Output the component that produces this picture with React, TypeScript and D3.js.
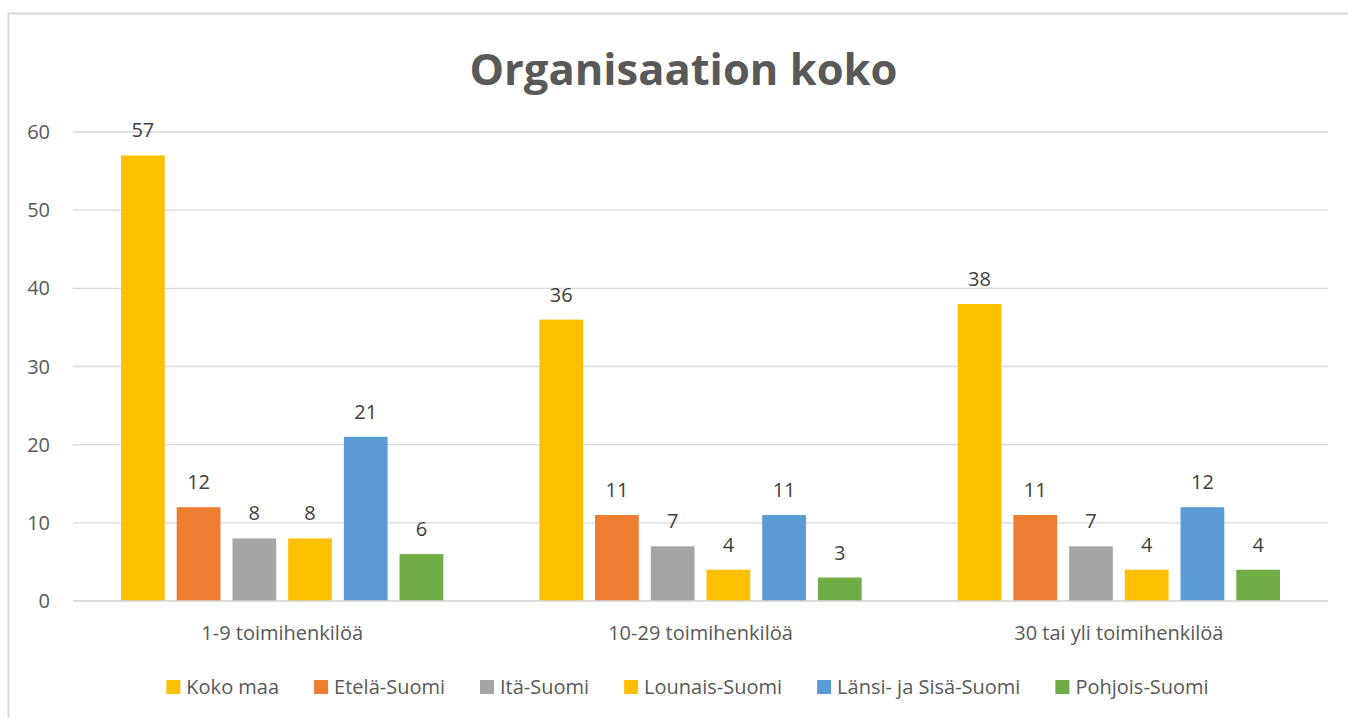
import { useEffect, useRef } from 'react';
import * as d3 from 'd3';

// data
const categories = ['1-9 toimihenkilöä', '10-29 toimihenkilöä', '30 tai yli toimihenkilöä'];
const seriesNames = ['Koko maa', 'Etelä-Suomi', 'Itä-Suomi', 'Lounais-Suomi', 'Länsi- ja Sisä-Suomi', 'Pohjois-Suomi'];
const seriesColors = ['#FFC000', '#ED7D31', '#A5A5A5', '#FFC000', '#5B9BD5', '#70AD47'];
const kokoMaa = [57, 36, 38];
const etelaSuomi = [12, 11, 11];
const itaSuomi = [8, 7, 7];
const lounaisSuomi = [8, 4, 4];
const lansiSisaSuomi = [21, 11, 12];
const pohjoisSuomi = [6, 3, 4];
const yTicks = [0, 10, 20, 30, 40, 50, 60];

const seriesValues = [kokoMaa, etelaSuomi, itaSuomi, lounaisSuomi, lansiSisaSuomi, pohjoisSuomi];

export default function App() {
    const ref = useRef<SVGSVGElement>(null);

    useEffect(() => {
        const font = "'Open Sans', 'Liberation Sans', sans-serif";
        const labelSize = 20;

        const svg = d3.select(ref.current);
        svg.selectAll('*').remove();

        // chart frame
        svg.append('rect')
            .attr('x', 8.5)
            .attr('y', 13.5)
            .attr('width', 1400)
            .attr('height', 800)
            .attr('fill', '#ffffff')
            .attr('stroke', '#d9d9d9')
            .attr('stroke-width', 2);

        // title
        svg.append('text')
            .attr('x', 683.5)
            .attr('y', 85)
            .attr('text-anchor', 'middle')
            .attr('font-family', font)
            .attr('font-weight', 'bold')
            .attr('font-size', 43.5)
            .attr('fill', '#595959')
            .text('Organisaation koko');

        // scales
        const plotLeft = 73;
        const plotRight = 1328;
        const y = d3.scaleLinear().domain([0, 60]).range([601, 132]);

        const x0 = d3.scaleBand<string>()
            .domain(categories)
            .range([plotLeft, plotRight]);

        const outer = 48;
        const x1 = d3.scaleBand<string>()
            .domain(seriesNames)
            .range([outer, x0.bandwidth() - outer])
            .paddingInner(0.215);

        // gridlines and y labels
        const grid = svg.append('g').attr('class', 'grid');
        yTicks.forEach(function(t) {
            grid.append('line')
                .attr('x1', plotLeft)
                .attr('x2', plotRight)
                .attr('y1', y(t))
                .attr('y2', y(t))
                .attr('stroke', '#d9d9d9')
                .attr('stroke-width', 1.3);
            grid.append('text')
                .attr('x', 50)
                .attr('y', y(t))
                .attr('dy', '0.35em')
                .attr('text-anchor', 'end')
                .attr('font-family', font)
                .attr('font-size', labelSize)
                .attr('fill', '#595959')
                .text(t);
        });

        // bars + value labels
        const groups = svg.selectAll('.group')
            .data(categories).enter()
            .append('g')
            .attr('class', 'group')
            .attr('transform', function(d) {
                return 'translate(' + x0(d) + ',0)';
            });

        groups.each(function(cat, ci) {
            const g = d3.select(this);
            seriesNames.forEach(function(name, si) {
                const v = seriesValues[si][ci];
                const bx = x1(name) as number;
                g.append('rect')
                    .attr('x', bx)
                    .attr('y', y(v))
                    .attr('width', x1.bandwidth())
                    .attr('height', y(0) - y(v))
                    .attr('fill', seriesColors[si]);
                g.append('text')
                    .attr('x', bx + x1.bandwidth() / 2)
                    .attr('y', y(v) - 18)
                    .attr('text-anchor', 'middle')
                    .attr('font-family', font)
                    .attr('font-size', labelSize)
                    .attr('fill', '#404040')
                    .text(v);
            });
            g.append('text')
                .attr('x', x0.bandwidth() / 2)
                .attr('y', 640)
                .attr('text-anchor', 'middle')
                .attr('font-family', font)
                .attr('font-size', labelSize)
                .attr('fill', '#595959')
                .text(cat);
        });

        // redraw the axis line on top
        svg.append('line')
            .attr('x1', plotLeft)
            .attr('x2', plotRight)
            .attr('y1', y(0))
            .attr('y2', y(0))
            .attr('stroke', '#d9d9d9')
            .attr('stroke-width', 1.3);

        // legend, laid out from measured text widths
        const legend = svg.append('g').attr('class', 'legend');
        const box = 14;
        const boxGap = 6;
        const itemGap = 35;
        const items: { g: any; w: number }[] = [];
        seriesNames.forEach(function(name, i) {
            const item = legend.append('g');
            item.append('rect')
                .attr('x', 0)
                .attr('y', 680)
                .attr('width', box)
                .attr('height', box)
                .attr('fill', seriesColors[i]);
            const t = item.append('text')
                .attr('x', box + boxGap)
                .attr('y', 694)
                .attr('font-family', font)
                .attr('font-size', labelSize)
                .attr('fill', '#595959')
                .text(name);
            const w = box + boxGap + (t.node() as SVGTextElement).getComputedTextLength();
            items.push({ g: item, w: w });
        });
        const total = d3.sum(items, function(d) { return d.w; }) + itemGap * (items.length - 1);
        let cursor = 687.5 - total / 2;
        items.forEach(function(d) {
            d.g.attr('transform', 'translate(' + cursor + ',0)');
            cursor += d.w + itemGap;
        });
    }, []);

    return (
        <svg
            ref={ref}
            width={1348}
            height={718}
            style={{ position: 'absolute', left: 0, top: 0, display: 'block' }}
        />
    );
}
